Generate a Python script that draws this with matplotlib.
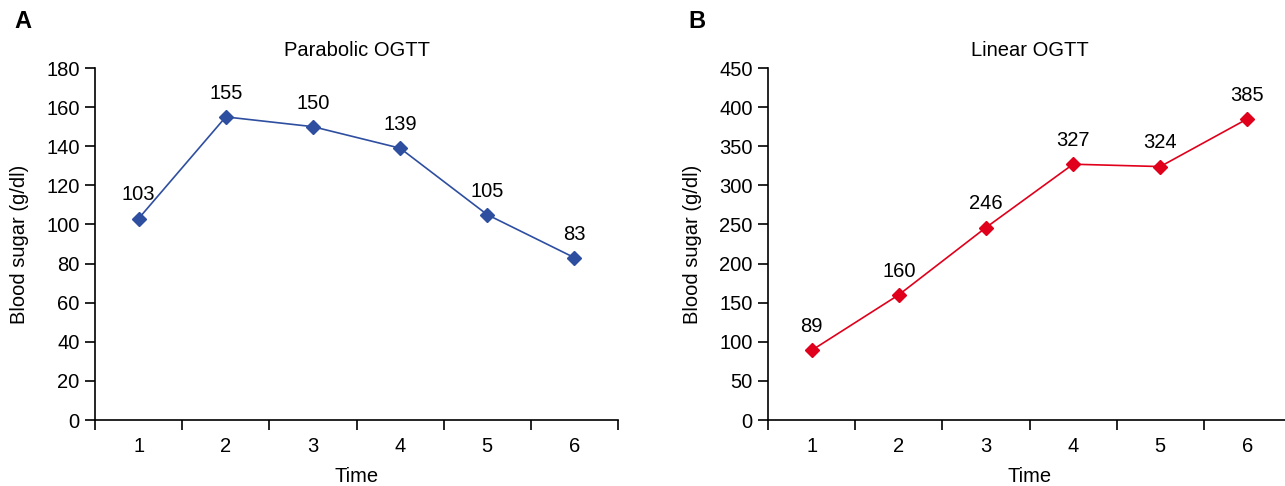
import matplotlib
matplotlib.use("Agg")
import matplotlib.pyplot as plt
import numpy as np

plt.rcParams['font.family'] = ['Liberation Sans', 'DejaVu Sans']

times = [1, 2, 3, 4, 5, 6]
time_labels = ['1', '2', '3', '4', '5', '6']
parabolic = [103, 155, 150, 139, 105, 83]
linear = [89, 160, 246, 327, 324, 385]

W, H = 1285, 486
FS = 14.5
fig = plt.figure(figsize=(W / 100, H / 100), dpi=100)

def make_ax(left_px, width_px, title, values, color, ymax, ystep, letter, letter_x):
    ax = fig.add_axes([left_px / W, (H - 420) / H, width_px / W, (420 - 68) / H])
    ax.plot(times, values, color=color, lw=1.2, marker='D', ms=7.5,
            mec=color, mfc=color, clip_on=False, zorder=3)
    for t, v in zip(times, values):
        ax.annotate(str(v), (t, v), xytext=(0, 17), textcoords='offset points',
                    ha='center', va='center', fontsize=FS)
    ax.set_xlim(0.5, 6.5)
    ax.set_ylim(0, ymax)
    ax.set_yticks(np.arange(0, ymax + 1, ystep))
    ax.set_xticks(np.arange(0.5, 7, 1.0))
    ax.set_xticklabels([])
    ax.set_xticks(times, minor=True)
    ax.set_xticklabels(time_labels, minor=True)
    ax.tick_params(axis='x', which='major', direction='out', length=7, width=1.2)
    ax.tick_params(axis='x', which='minor', length=0, pad=12, labelsize=FS)
    ax.tick_params(axis='y', direction='out', length=7, width=1.2, pad=4, labelsize=FS)
    for s in ['top', 'right']:
        ax.spines[s].set_visible(False)
    for s in ['left', 'bottom']:
        ax.spines[s].set_linewidth(1.2)
    ax.set_title(title, fontsize=FS, pad=8.5)
    ax.set_xlabel('Time', fontsize=FS, labelpad=8)
    ax.set_ylabel('Blood sugar (g/dl)', fontsize=FS, va='center')
    ax.yaxis.set_label_coords((20 - 95) / 523, 0.5)
    fig.text(letter_x / W, 1 - 22 / H, letter, fontsize=17, fontweight='bold',
             ha='center', va='center')
    return ax

make_ax(95, 523, 'Parabolic OGTT', parabolic, '#2E4EA0', 180, 20, 'A', 23)
make_ax(768, 523, 'Linear OGTT', linear, '#E0001B', 450, 50, 'B', 697)

fig.savefig('out.png', dpi=100)
